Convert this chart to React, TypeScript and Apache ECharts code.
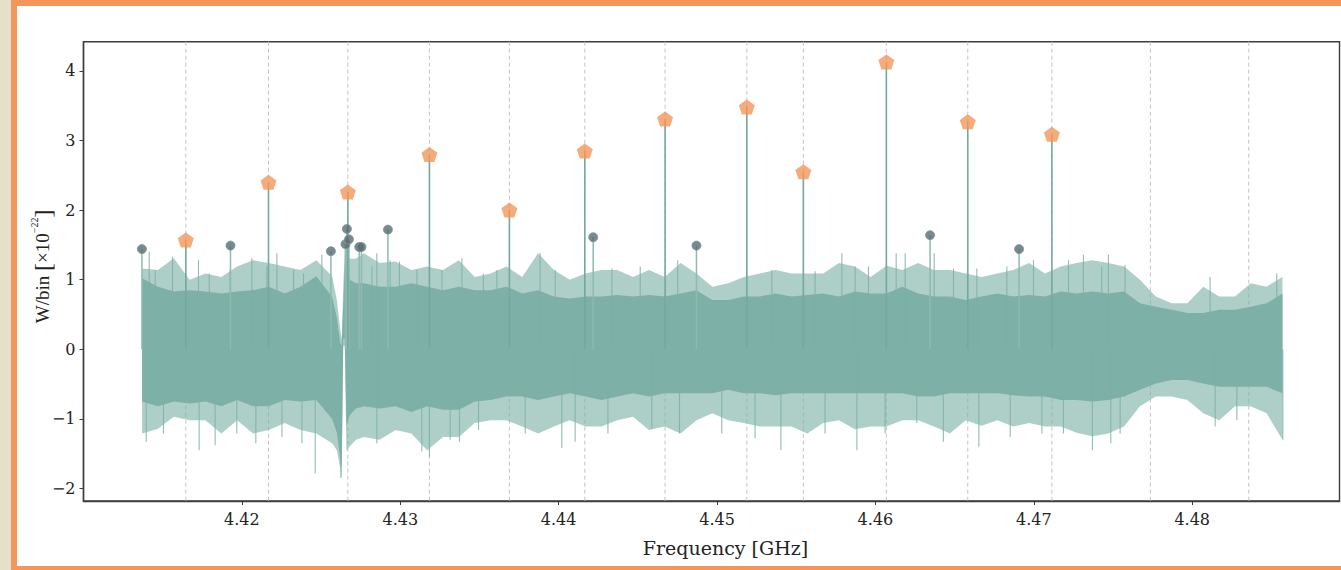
import React, { useEffect, useRef } from "react";
import * as echarts from "echarts";

const F = [
  4.4137, 4.4147, 4.4157, 4.4167, 4.4177, 4.4187, 4.4197, 4.4207, 4.4217, 4.4227,
  4.4237, 4.4247, 4.4257, 4.426, 4.4262, 4.4263, 4.4264, 4.4265, 4.4266, 4.4268,
  4.4272, 4.4277, 4.4287, 4.4297, 4.4307, 4.4317, 4.4327, 4.4337, 4.4347, 4.4357,
  4.4367, 4.4377, 4.4387, 4.4397, 4.4407, 4.4417, 4.4427, 4.4437, 4.4447, 4.4457,
  4.4467, 4.4477, 4.4487, 4.4497, 4.4507, 4.4517, 4.4527, 4.4537, 4.4547, 4.4557,
  4.4567, 4.4577, 4.4587, 4.4597, 4.4607, 4.4617, 4.4627, 4.4637, 4.4647, 4.4657,
  4.4667, 4.4677, 4.4687, 4.4697, 4.4707, 4.4717, 4.4727, 4.4737, 4.4747, 4.4757,
  4.4767, 4.4777, 4.4787, 4.4797, 4.4807, 4.4817, 4.4827, 4.4837, 4.4847, 4.4857,
];
const CORE_HI = [
  1.02, 0.9, 0.83, 0.85, 0.83, 0.8, 0.83, 0.85, 0.9, 0.8,
  0.9, 1.05, 0.75, 0.45, 0.1, 0.05, 0.6, 1.2, 1.25, 1.0,
  0.95, 0.95, 0.9, 0.9, 0.95, 0.9, 0.85, 0.9, 0.85, 0.85,
  0.9, 0.8, 0.85, 0.76, 0.73, 0.76, 0.76, 0.78, 0.76, 0.78,
  0.76, 0.8, 0.85, 0.71, 0.71, 0.76, 0.76, 0.8, 0.76, 0.78,
  0.8, 0.76, 0.83, 0.8, 0.8, 0.9, 0.8, 0.76, 0.76, 0.71,
  0.76, 0.8, 0.76, 0.78, 0.76, 0.83, 0.8, 0.83, 0.8, 0.83,
  0.66, 0.61, 0.57, 0.52, 0.52, 0.57, 0.57, 0.61, 0.66, 0.8,
];
const CORE_LO = [
  -0.75, -0.82, -0.75, -0.78, -0.75, -0.82, -0.73, -0.82, -0.82, -0.73,
  -0.75, -0.73, -1.0, -1.2, -1.55, -1.7, 0.15, 0.15, -1.1, -0.95,
  -0.85, -0.82, -0.85, -0.82, -0.9, -0.82, -0.87, -0.87, -0.75, -0.73,
  -0.68, -0.68, -0.73, -0.68, -0.63, -0.68, -0.73, -0.68, -0.63, -0.68,
  -0.63, -0.63, -0.63, -0.63, -0.58, -0.63, -0.63, -0.66, -0.63, -0.63,
  -0.63, -0.63, -0.63, -0.63, -0.63, -0.63, -0.68, -0.68, -0.63, -0.63,
  -0.63, -0.63, -0.66, -0.68, -0.68, -0.73, -0.73, -0.75, -0.73, -0.68,
  -0.58, -0.49, -0.44, -0.44, -0.49, -0.54, -0.54, -0.54, -0.54, -0.63,
];
const OUTER_HI = [
  1.16, 1.14, 1.31, 1.0, 1.09, 1.04, 1.19, 1.28, 1.24, 1.19,
  1.14, 1.28, 1.05, 0.7, 0.3, 0.15, 0.9, 1.45, 1.5, 1.3,
  1.3, 1.38, 1.24, 1.26, 1.14, 1.19, 1.14, 1.28, 1.04, 1.09,
  1.19, 1.04, 1.38, 1.14, 1.0, 1.09, 1.14, 1.14, 1.04, 1.14,
  1.04, 1.24, 1.09, 0.9, 0.95, 1.04, 1.09, 1.14, 1.09, 1.09,
  1.09, 1.24, 1.19, 1.04, 1.2, 1.14, 1.24, 1.14, 1.14, 1.09,
  1.04, 1.09, 1.14, 1.24, 1.09, 1.19, 1.24, 1.28, 1.24, 1.19,
  1.0, 0.76, 0.66, 0.66, 0.9, 0.76, 0.76, 0.95, 0.9, 1.04,
];
const OUTER_LO = [
  -1.21, -1.14, -0.97, -1.02, -1.02, -1.21, -1.02, -1.21, -1.16, -1.06,
  -1.16, -1.21, -1.35, -1.45, -1.7, -1.85, 0.05, 0.05, -1.45, -1.4,
  -1.3, -1.26, -1.3, -1.16, -1.21, -1.45, -1.26, -1.26, -1.06, -1.02,
  -1.02, -1.11, -1.21, -1.11, -1.02, -1.11, -1.11, -1.02, -0.97, -1.16,
  -1.11, -1.21, -1.02, -0.92, -1.02, -1.06, -1.11, -1.11, -1.11, -1.21,
  -1.06, -1.02, -1.15, -1.11, -1.11, -1.02, -1.02, -1.11, -1.21, -1.02,
  -1.1, -1.02, -1.11, -1.06, -1.11, -1.11, -1.2, -1.25, -1.21, -1.11,
  -0.82, -0.68, -0.68, -0.73, -0.92, -1.02, -0.82, -0.82, -0.92, -1.3,
];

// ---- isolated noise spikes (upward then downward) ----
const SPIKE_F = [
  4.41415, 4.41453, 4.41562, 4.41726, 4.41794, 4.41926, 4.42063, 4.42158, 4.42221,
  4.42326, 4.42389, 4.42505, 4.42821, 4.42852, 4.42936, 4.42995, 4.43105, 4.43263,
  4.43389, 4.43525, 4.4361, 4.43883, 4.43978, 4.44336, 4.44515, 4.44752, 4.45346,
  4.45619, 4.45788, 4.45872, 4.45956, 4.46131, 4.46188, 4.46371, 4.46493, 4.4664,
  4.4683, 4.46998, 4.47219, 4.47313, 4.47429, 4.47471, 4.47576, 4.48113, 4.48534,
  4.41396, 4.41505, 4.4173, 4.41831, 4.41968, 4.42088, 4.42253, 4.42379, 4.42463,
  4.42625, 4.42852, 4.43136, 4.43184, 4.43315, 4.43374, 4.43494, 4.43789, 4.4402,
  4.44104, 4.44311, 4.44588, 4.44763, 4.4503, 4.4524, 4.45403, 4.45682, 4.45883,
  4.46061, 4.46261, 4.46429, 4.46653, 4.46851, 4.47051, 4.47187, 4.4737, 4.47486,
  4.47545, 4.48145, 4.48282, 4.48572,
];
const SPIKE_V = [
  1.4, 1.14, 1.33, 1.28, 1.09, 1.14, 1.31, 1.19, 1.38,
  1.14, 1.09, 1.36, 1.19, 1.38, 1.28, 1.26, 1.14, 1.14,
  1.31, 1.09, 1.14, 1.38, 1.14, 1.16, 1.19, 1.28, 1.14,
  1.12, 1.38, 1.19, 1.19, 1.38, 1.38, 1.38, 1.16, 1.16,
  1.19, 1.28, 1.28, 1.36, 1.19, 1.36, 1.21, 1.04, 1.09,
  -1.33, -1.21, -1.45, -1.38, -1.21, -1.35, -1.26, -1.35, -1.78,
  -1.85, -1.35, -1.47, -1.54, -1.3, -1.33, -1.16, -1.21, -1.42,
  -1.33, -1.21, -1.14, -1.21, -1.21, -1.28, -1.45, -1.21, -1.45,
  -1.21, -1.06, -1.33, -1.4, -1.26, -1.21, -1.21, -1.45, -1.35,
  -1.21, -1.11, -1.02, -1.3,
];

// ---- detected peaks (orange pentagons) ----
const PEAK_F = [
  4.41646, 4.42168, 4.42669, 4.43184, 4.43689, 4.44165,
  4.44672, 4.45188, 4.45545, 4.46069, 4.46583, 4.47114,
];
const PEAK_V = [1.57, 2.4, 2.26, 2.8, 2.0, 2.85, 3.31, 3.48, 2.55, 4.13, 3.27, 3.09];

// ---- minor peaks (grey dots) ----
const DOT_F = [
  4.41369, 4.41928, 4.42562, 4.42654, 4.42663, 4.42676, 4.42741,
  4.42755, 4.42922, 4.44218, 4.4487, 4.46345, 4.46907,
];
const DOT_V = [1.44, 1.49, 1.41, 1.51, 1.73, 1.58, 1.47, 1.47, 1.72, 1.61, 1.49, 1.64, 1.44];

// ---- guide lines (dashed) ----
const GUIDE_F = [...PEAK_F, 4.47736, 4.48357];

// ---- ticks ----
const X_TICKS = [4.42, 4.43, 4.44, 4.45, 4.46, 4.47, 4.48];
const Y_TICKS = [-2, -1, 0, 1, 2, 3, 4];

const FONT = "'DejaVu Serif', 'Liberation Serif', serif";
const NAME_FONT = "'Liberation Serif', 'DejaVu Serif', serif";
const TEAL = "#7db0a6";
const AXIS = "#3c3c3c";

const PENTAGON =
  "path://M0,-10 L9.511,-3.09 L5.878,8.09 L-5.878,8.09 L-9.511,-3.09 Z";

function bandSeries(hi: number[], lo: number[], opacity: number, z: number) {
  return {
    type: "custom",
    z,
    silent: true,
    data: F.map((f, i) => [f, lo[i], hi[i]]),
    renderItem: (params: any, api: any) => {
      if (params.dataIndex !== 0) return null;
      const pts: number[][] = [];
      for (let i = 0; i < F.length; i++) pts.push(api.coord([F[i], hi[i]]));
      for (let i = F.length - 1; i >= 0; i--) pts.push(api.coord([F[i], lo[i]]));
      return {
        type: "polygon",
        shape: { points: pts },
        style: { fill: TEAL, opacity },
      };
    },
  };
}

function stemSeries(fs: number[], vs: number[], color: string, width: number, z: number) {
  return {
    type: "custom",
    z,
    silent: true,
    data: fs.map((f, i) => [f, vs[i]]),
    renderItem: (_params: any, api: any) => {
      const a = api.coord([api.value(0), 0]);
      const b = api.coord([api.value(0), api.value(1)]);
      return {
        type: "line",
        shape: { x1: a[0], y1: a[1], x2: b[0], y2: b[1] },
        style: { stroke: color, lineWidth: width },
      };
    },
  };
}

export default function App() {
  const ref = useRef<HTMLDivElement>(null);
  useEffect(() => {
    document.body.style.margin = "0";
    if (!ref.current) return;
    const chart = echarts.init(ref.current, undefined, { renderer: "svg" });
    chart.setOption({
      animation: false,
      grid: {
        left: 83.5,
        right: 1.5,
        top: 41.7,
        bottom: 69,
        show: true,
        borderColor: AXIS,
        borderWidth: 1.4,
        backgroundColor: "transparent",
      },
      xAxis: {
        type: "value",
        min: 4.41,
        max: 4.4893,
        name: "Frequency [GHz]",
        nameLocation: "middle",
        nameGap: 37,
        nameMoveOverlap: false,
        nameTextStyle: {
          fontFamily: FONT,
          fontSize: 19,
          color: "#222",
          padding: [0, 0, 0, 28],
        },
        axisLine: { show: true, onZero: false, lineStyle: { color: AXIS, width: 1.4 } },
        axisTick: {
          show: true,
          length: 4,
          customValues: X_TICKS,
          lineStyle: { color: AXIS, width: 1 },
        },
        axisLabel: {
          customValues: X_TICKS,
          margin: 10,
          fontFamily: FONT,
          fontSize: 16,
          color: "#222",
          formatter: (v: number) => v.toFixed(2),
        },
        splitLine: { show: false },
      },
      yAxis: {
        type: "value",
        min: -2.18,
        max: 4.42,
        name: "{a|W/bin }{b|[}{a|×10}{s|−22}{b|]}",
        nameLocation: "middle",
        nameGap: 28,
        nameMoveOverlap: false,
        nameTextStyle: {
          fontFamily: NAME_FONT,
          fontSize: 19,
          color: "#222",
          padding: [0, 0, 0, 10],
          rich: {
            a: { fontFamily: NAME_FONT, fontSize: 19, color: "#222", lineHeight: 26 },
            b: { fontFamily: NAME_FONT, fontSize: 24, color: "#222", lineHeight: 26 },
            s: { fontFamily: NAME_FONT, fontSize: 10, color: "#222", verticalAlign: "top", lineHeight: 26 },
          },
        },
        axisLine: { show: true, onZero: false, lineStyle: { color: AXIS, width: 1.4 } },
        axisTick: {
          show: true,
          length: 4,
          customValues: Y_TICKS,
          lineStyle: { color: AXIS, width: 1 },
        },
        axisLabel: {
          customValues: Y_TICKS,
          margin: 8,
          fontFamily: FONT,
          fontSize: 16,
          color: "#222",
          formatter: (v: number) => (v < 0 ? "\u2212" + Math.abs(v) : String(v)),
        },
        splitLine: { show: false },
      },
      series: [
        {
          type: "custom",
          z: 1,
          silent: true,
          data: GUIDE_F.map((f) => [f, 0]),
          renderItem: (params: any, api: any) => {
            const cs = params.coordSys;
            const p = api.coord([api.value(0), 0]);
            return {
              type: "line",
              shape: { x1: p[0], y1: cs.y, x2: p[0], y2: cs.y + cs.height },
              style: { stroke: "#c4c4c4", lineWidth: 1, lineDash: [4, 3] },
            };
          },
        },
        bandSeries(OUTER_HI, OUTER_LO, 0.62, 2),
        bandSeries(CORE_HI, CORE_LO, 1, 3),
        stemSeries(SPIKE_F, SPIKE_V, "rgba(125,176,166,0.85)", 1.1, 4),
        stemSeries(DOT_F, DOT_V, "#8dbab1", 1.5, 4),
        stemSeries(PEAK_F, PEAK_V, "#74a99f", 1.6, 4),
        {
          type: "scatter",
          z: 5,
          silent: true,
          symbol: "circle",
          symbolSize: 9,
          itemStyle: { color: "#566d72", borderColor: "#7e9397", borderWidth: 1 },
          data: DOT_F.map((f, i) => [f, DOT_V[i]]),
        },
        {
          type: "scatter",
          z: 6,
          silent: true,
          symbol: PENTAGON,
          symbolSize: [16, 15],
          itemStyle: { color: "#f4965a" },
          data: PEAK_F.map((f, i) => [f, PEAK_V[i]]),
        },
      ],
    });
    return () => chart.dispose();
  }, []);

  return (
    <div style={{ position: "absolute", left: 0, top: 0, width: 1341, height: 570, background: "#e4e0cc", overflow: "hidden" }}>
      <div style={{ position: "absolute", left: 11, top: 0, width: 1330, height: 570, background: "#f4965a" }} />
      <div style={{ position: "absolute", left: 17, top: 6, width: 1324, height: 560, background: "#ffffff" }} />
      <div ref={ref} style={{ position: "absolute", left: 0, top: 0, width: 1341, height: 570 }} />
    </div>
  );
}
